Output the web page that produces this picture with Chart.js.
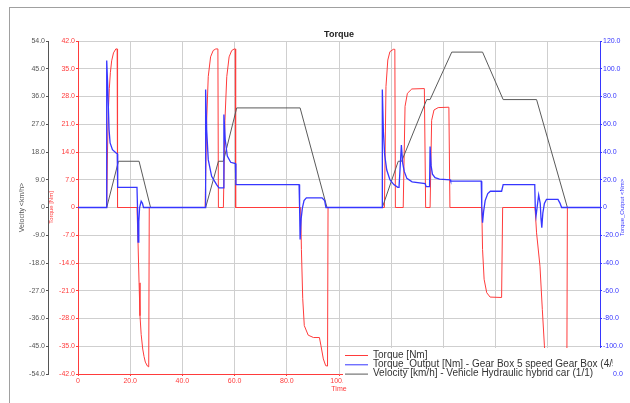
<!DOCTYPE html>
<html>
<head>
<meta charset="utf-8">
<script src="https://cdn.jsdelivr.net/npm/chart.js@4.4.1/dist/chart.umd.min.js"></script>
<style>
html, body { margin: 0; padding: 0; background: #fff; }
</style>
</head>
<body>
<canvas id="torqueChart" width="630" height="403"></canvas>
<script>
// time [s] / torque [Nm]
const torqueTime = [0, 11.0, 11.3, 11.6, 12.0, 12.4, 12.9, 13.6, 14.5, 15.0, 15.15,
  22.6, 23.0, 23.4, 23.75, 24.2, 24.8, 25.3, 25.8, 26.6, 27.1, 27.3,
  48.7, 49.3, 49.9, 50.8, 51.8, 52.8, 53.6, 53.8,
  55.7, 56.3, 57.0, 57.9, 58.9, 59.9, 60.25, 60.4,
  85.3, 85.6, 86.1, 86.7, 88.2, 90.2, 92.5, 93.1, 94.0, 94.9, 95.6, 95.8,
  117.4, 118.0, 118.7, 119.5, 120.8, 121.4, 121.6,
  124.6, 125.3, 126.2, 127.9, 132.7, 133.2,
  134.9, 135.5, 136.4, 138.0, 142.1, 142.5,
  154.7, 155.0, 155.6, 156.6, 157.9, 162.3, 162.7,
  175.1, 175.7, 177.0, 177.9, 178.7, 179.6, 187.3, 187.5, 200];
const torqueNm = [0, 0, 14, 24, 30, 34, 37, 39, 40, 40, 0,
  0, -8.8, -19, -27.3, -32, -35.7, -37.6, -39, -40, -40.2, 0,
  0, 22, 33, 38, 39.6, 40, 40, 0,
  0, 22, 33, 38, 39.6, 40, 40, 0,
  0, -10.6, -23, -29.8, -32.2, -32.8, -32.8, -34.9, -38.2, -39.9, -40, 0,
  0, 30.5, 37.2, 39.3, 39.9, 39.9, 0,
  0, 25.5, 28.8, 29.9, 30, 0,
  0, 22, 24.6, 25.2, 25.3, 0,
  0, -10.6, -18.1, -21.5, -22.6, -22.7, 0,
  0, -6.4, -14.8, -25.7, -34.9, -41, -41, 0, 0];

// gearbox output torque
const outputTime = [0, 10.9, 11.0, 11.4, 11.9, 12.3, 13.2, 14.6, 15.05, 15.2, 22.6, 22.8, 23.0, 23.3, 23.6, 24.2, 24.7, 25.1,
  48.8, 48.9, 49.3, 49.9, 51.2, 53.1, 54.0, 55.7, 55.9, 56.4, 57.2, 58.5, 60.3, 60.5,
  84.7, 84.9, 85.1, 85.5, 86.0, 86.6, 87.5, 93.5, 94.5, 95.0,
  116.5, 116.6, 117.0, 117.5, 118.3, 119.5, 121.0, 122.5, 123.0, 123.9, 124.4, 125.0, 126.0, 128.0,
  133.0, 133.4, 134.7, 134.9, 135.3, 135.8, 136.8, 138.5, 142.6, 142.8, 154.5,
  154.7, 155.0, 155.4, 156.0, 157.0, 158.0, 162.3, 162.9, 175.0,
  175.2, 175.5, 175.9, 176.5, 177.1, 177.4, 177.7, 178.1, 178.7, 179.5, 183.9, 184.7, 185.3, 200];
const outputNm = [0, 0, 106, 87, 56, 46.5, 41.7, 39.3, 38.8, 14.5, 14.5, 0, -25, -10, 0, 4.5, 3, 0,
  0, 85, 56, 34.5, 22.5, 16.5, 14.2, 14.2, 67, 49, 37, 32.6, 31.7, 16.5,
  16.5, 0, -23, -8, 0, 5, 7, 7, 5, 0,
  0, 85, 55, 38, 27, 20, 16.5, 14.5, 14.5, 45, 32, 26, 21, 18.5,
  17.3, 15, 15, 44, 30, 24, 21.5, 20.5, 20, 19, 19,
  0, -11, -3, 5, 10, 11.7, 11.7, 16.5, 16.5,
  0, -6, 0, 9, 3, -8, -14.6, -4, 3, 5.8, 5.8, 3, 0, 0];

// vehicle speed
const velocityTime = [0, 11, 15.5, 23.4, 27.8, 48.9, 53.8, 55.7, 60.8, 85.1, 95.4,
  116.6, 122.7, 124, 133.6, 134.9, 143.2, 155, 162.9, 175.7, 187.5, 200];
const velocityKmh = [0, 0, 15, 15, 0, 0, 15, 15, 32.3, 32.3, 0,
  0, 15, 15, 35, 35, 50.4, 50.4, 35, 35, 0, 0];

const seriesLabels = [
  'Torque [Nm]',
  'Torque_Output [Nm] - Gear Box 5 speed Gear Box (4/5)',
  'Velocity [km/h] - Vehicle Hydraulic hybrid car (1/1)'
];

const RED = '#ff3b3b';
const BLUE = '#3636ff';
const GREY = '#5a5a5a';
const FONT = '"Liberation Sans", Arial, sans-serif';
Chart.defaults.font.family = FONT;

function pts(xs, ys) {
  return xs.map((x, i) => ({ x: x, y: ys[i] }));
}
function fmt(v) {
  return v === 0 ? '0' : v.toFixed(1);
}

// frame, right axis title and the boxed legend
const extras = {
  id: 'extras',
  beforeDraw(chart) {
    const c = chart.ctx;
    c.save();
    c.strokeStyle = '#a0a0a0';
    c.lineWidth = 1;
    c.strokeRect(9.5, 7.5, 700, 500);
    c.restore();
  },
  afterDraw(chart) {
    const c = chart.ctx;
    const yO = chart.scales.yO;
    c.save();
    c.translate(yO.right - 8, (yO.top + yO.bottom) / 2);
    c.rotate(-Math.PI / 2);
    c.fillStyle = BLUE;
    c.font = '6px ' + FONT;
    c.textAlign = 'center';
    c.textBaseline = 'middle';
    c.fillText('Torque_Output <Nm>', 0, 0);
    c.restore();

    const bx = 343, by = 348, bw = 270, bh = 37;
    c.save();
    c.fillStyle = '#fff';
    c.fillRect(bx, by, bw, bh);
    c.beginPath();
    c.rect(bx, by, bw, bh);
    c.clip();
    c.font = '10px ' + FONT;
    c.textBaseline = 'middle';
    chart.data.datasets.forEach((ds, i) => {
      const y = by + 7 + i * 9.3;
      c.strokeStyle = ds.borderColor;
      c.lineWidth = 1;
      c.beginPath();
      c.moveTo(bx + 2, y + 0.5);
      c.lineTo(bx + 25, y + 0.5);
      c.stroke();
      c.fillStyle = '#333';
      c.fillText(ds.label, bx + 30, y);
    });
    c.restore();
  }
};

new Chart(document.getElementById('torqueChart'), {
  type: 'line',
  data: {
    datasets: [
      {
        label: seriesLabels[0],
        data: pts(torqueTime, torqueNm),
        yAxisID: 'yT',
        borderColor: RED,
        borderWidth: 1,
        order: 3
      },
      {
        label: seriesLabels[1],
        data: pts(outputTime, outputNm),
        yAxisID: 'yO',
        borderColor: BLUE,
        borderWidth: 1.3,
        order: 1
      },
      {
        label: seriesLabels[2],
        data: pts(velocityTime, velocityKmh),
        yAxisID: 'yV',
        borderColor: GREY,
        borderWidth: 1,
        order: 2
      }
    ]
  },
  options: {
    responsive: false,
    animation: false,
    devicePixelRatio: 1,
    elements: { point: { radius: 0 }, line: { tension: 0 } },
    layout: { padding: { left: 10, right: 0, top: 10, bottom: 5 } },
    plugins: {
      legend: { display: false },
      tooltip: { enabled: false },
      title: {
        display: true,
        text: 'Torque',
        fullSize: false,
        color: '#222',
        font: { size: 9, weight: 'bold' },
        padding: { top: 19.4, bottom: 0.8 }
      }
    },
    scales: {
      x: {
        type: 'linear',
        min: 0, max: 200,
        ticks: { stepSize: 20, color: RED, font: { size: 7 }, padding: 1, maxRotation: 0, autoSkip: false, callback: fmt },
        grid: { color: '#cfcfcf', tickColor: RED, tickLength: 2 },
        border: { color: RED },
        title: { display: true, text: 'Time', color: RED, font: { size: 7 }, padding: { top: 0, bottom: 4.8 } },
        afterFit(s) { s.height = 24; }
      },
      yT: {
        position: 'left',
        weight: 0,
        min: -42, max: 42,
        ticks: { stepSize: 7, color: RED, font: { size: 7 }, padding: 1, autoSkip: false, callback: fmt },
        grid: { color: '#cfcfcf', tickColor: RED, tickLength: 2 },
        border: { color: RED },
        title: { display: true, text: 'Torque [Nm]', color: RED, font: { size: 6 }, padding: { top: 0, bottom: 0 } },
        afterFit(s) { s.width = 30; }
      },
      yV: {
        position: 'left',
        weight: 1,
        min: -54, max: 54,
        ticks: { stepSize: 9, color: '#555', font: { size: 7 }, padding: 1, autoSkip: false, callback: fmt },
        grid: { drawOnChartArea: false, tickColor: '#555', tickLength: 2 },
        border: { color: '#555' },
        title: { display: true, text: 'Velocity <km/h>', color: '#555', font: { size: 7 }, padding: { top: 7.8, bottom: 0 } },
        afterFit(s) { s.width = 38; }
      },
      yO: {
        position: 'right',
        min: -120, max: 120,
        ticks: { stepSize: 20, color: BLUE, font: { size: 7 }, padding: 1, autoSkip: false, callback: fmt },
        grid: { drawOnChartArea: false, tickColor: BLUE, tickLength: 2 },
        border: { color: BLUE },
        afterFit(s) { s.width = 30; }
      }
    }
  },
  plugins: [extras]
});
</script>
</body>
</html>
